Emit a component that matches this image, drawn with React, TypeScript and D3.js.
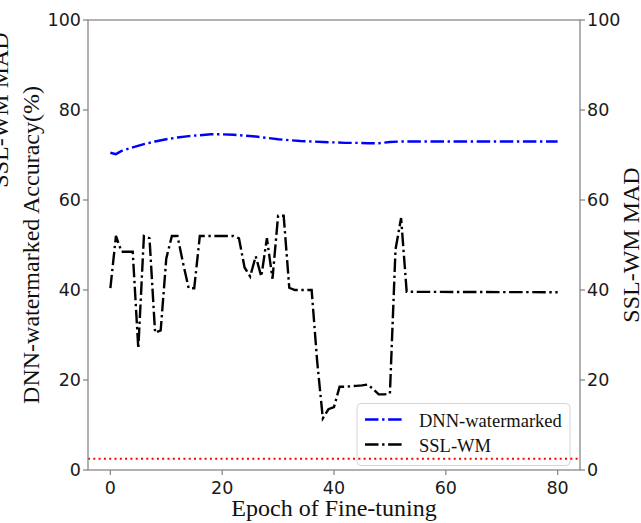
import React from "react";
import * as d3 from "d3";

const xTicks = [0, 20, 40, 60, 80];
const yTicks = [0, 20, 40, 60, 80, 100];

const blueEpochs = [0, 1, 2, 3, 4, 6, 8, 10, 12, 14, 16, 18, 20, 22, 24, 26, 28, 30, 32, 34, 36, 38, 40, 42, 44, 46, 48, 50, 52, 80];
const blueValues = [70.5, 70.2, 70.9, 71.3, 71.7, 72.4, 73.0, 73.5, 73.9, 74.2, 74.4, 74.6, 74.6, 74.5, 74.3, 74.1, 73.8, 73.5, 73.3, 73.1, 73.0, 72.9, 72.8, 72.7, 72.7, 72.6, 72.6, 72.9, 73.0, 73.0];

const blackEpochs = [0, 1, 2, 3, 4, 5, 6, 7, 8, 9, 10, 11, 12, 13, 14, 15, 16, 17, 18, 19, 20, 21, 22, 23, 24, 25, 26, 27, 28, 29, 30, 31, 32, 33, 34, 35, 36, 37, 38, 39, 40, 41, 42, 43, 44, 45, 46, 47, 48, 49, 50, 51, 52, 53, 80];
const blackValues = [40.4, 52, 48.5, 48.5, 48.5, 27, 52, 51.5, 30.5, 31, 47, 52, 52, 46, 40.4, 40.4, 52, 52, 52, 52, 52, 52, 52, 51.5, 45, 43, 47.5, 43, 51.5, 42.5, 56.5, 56.5, 40.5, 40, 40, 40, 40, 24, 11.5, 13.5, 14, 18.5, 18.5, 18.6, 18.7, 18.8, 19, 18, 16.8, 16.8, 17, 49, 56, 39.6, 39.5];

const redLevel = 2.5;

const seriesNames = ["DNN-watermarked", "SSL-WM"];

export default function App() {
  const W = 641, H = 523;
  const x = d3.scaleLinear().domain([-4, 84]).range([88, 580]);
  const y = d3.scaleLinear().domain([0, 100]).range([470, 20]);
  const line = d3.line<[number, number]>().x(d => x(d[0])).y(d => y(d[1]));
  const blue = line(blueEpochs.map((e, i) => [e, blueValues[i]]) as [number, number][]) || "";
  const black = line(blackEpochs.map((e, i) => [e, blackValues[i]]) as [number, number][]) || "";
  const dash = "13.5 3.6 2.4 3.6";
  const tickFont = "'DejaVu Sans', sans-serif";
  const serif = "'Liberation Serif', 'Times New Roman', serif";
  const spine = "#888";
  const [x0, x1] = x.range();
  const [yb, yt] = y.range();
  const lx = 357, ly = 403.5, lw = 213, lh = 62;
  return (
    <svg width={W} height={H} style={{ position: "absolute", left: 0, top: 0, background: "#fff" }}>
      <rect x={0} y={0} width={W} height={H} fill="#fff" />
      {/* lines */}
      <path d={blue} fill="none" stroke="#0000ff" strokeWidth={2.4} strokeDasharray={dash} />
      <path d={black} fill="none" stroke="#000" strokeWidth={2.4} strokeDasharray={dash} />
      {/* legend */}
      <rect x={lx} y={ly} width={lw} height={lh} rx={4} fill="#fff" fillOpacity={0.8} stroke="#d6d6d6" strokeWidth={1} />
      {seriesNames.map((n, i) => (
        <g key={n}>
          <line x1={365} x2={403} y1={419.5 + i * 25} y2={419.5 + i * 25} stroke={i === 0 ? "#0000ff" : "#000"} strokeWidth={2.4} strokeDasharray={dash} />
          <text x={419} y={426.7 + i * 25} fontFamily={serif} fontSize={18.5} fill="#111">{n}</text>
        </g>
      ))}
      {/* red dotted */}
      <line x1={x0} x2={x1} y1={y(redLevel)} y2={y(redLevel)} stroke="#ff0000" strokeWidth={2} strokeDasharray="2 3.3" />
      {/* spines */}
      <rect x={x0} y={yt} width={x1 - x0} height={yb - yt} fill="none" stroke={spine} strokeWidth={1.3} />
      {/* x ticks */}
      {xTicks.map(t => (
        <g key={"x" + t}>
          <line x1={x(t)} x2={x(t)} y1={yb} y2={yb + 5} stroke={spine} strokeWidth={1.3} />
          <text x={x(t)} y={yb + 12} dy="0.71em" textAnchor="middle" fontFamily={tickFont} fontSize={17.5} fill="#1a1a1a">{t}</text>
        </g>
      ))}
      {/* y ticks left & right */}
      {yTicks.map(t => (
        <g key={"y" + t}>
          <line x1={x0 - 5} x2={x0} y1={y(t)} y2={y(t)} stroke={spine} strokeWidth={1.3} />
          <text x={x0 - 7} y={y(t)} dy="0.36em" textAnchor="end" fontFamily={tickFont} fontSize={17.5} fill="#1a1a1a">{t}</text>
          <line x1={x1} x2={x1 + 5} y1={y(t)} y2={y(t)} stroke={spine} strokeWidth={1.3} />
          <text x={x1 + 7} y={y(t)} dy="0.36em" textAnchor="start" fontFamily={tickFont} fontSize={17.5} fill="#1a1a1a">{t}</text>
        </g>
      ))}
      {/* axis labels */}
      <text x={(x0 + x1) / 2} y={516} textAnchor="middle" fontFamily={serif} fontSize={24} fill="#111">Epoch of Fine-tuning</text>
      <text transform={`translate(39,${(yb + yt) / 2}) rotate(-90)`} textAnchor="middle" fontFamily={serif} fontSize={24} fill="#111">DNN-watermarked Accuracy(%)</text>
      <text transform={`translate(8,110) rotate(-90)`} textAnchor="middle" fontFamily={serif} fontSize={24} fill="#111">SSL-WM MAD</text>
      <text transform={`translate(639,${(yb + yt) / 2}) rotate(-90)`} textAnchor="middle" fontFamily={serif} fontSize={24} fill="#111">SSL-WM MAD</text>
    </svg>
  );
}
